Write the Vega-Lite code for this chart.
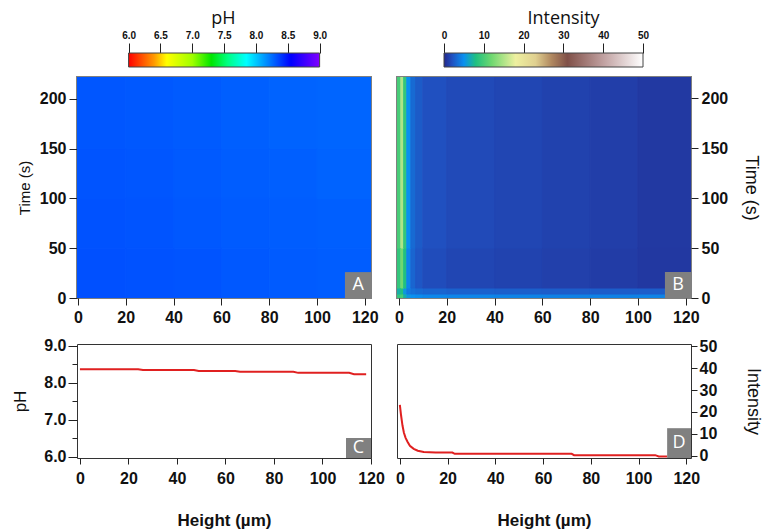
{
  "$schema": "https://vega.github.io/schema/vega-lite/v6.json",
  "padding": {"left": 11, "top": 9, "right": 0, "bottom": 0},
  "background": "white",
  "config": {
    "font": "Liberation Sans",
    "axis": {"labelFont": "Liberation Sans", "labelFontSize": 16, "labelFontWeight": "bold", "labelColor": "#111", "tickColor": "#222", "domain": false, "grid": false, "labelOverlap": false, "labelBound": false, "labelFlush": false, "titleFont": "Liberation Sans", "titleFontWeight": "normal", "titleColor": "#111"}
  },
  "datasets": {
    "cbPH": [{"lo": 6, "hi": 9}],
    "cbI": [{"lo": 0, "hi": 50}],
    "phmap": [
      {"h0": -1, "h1": 20, "t0": 0, "t1": 50, "pH": 8.33},
      {"h0": 20, "h1": 40, "t0": 0, "t1": 50, "pH": 8.325},
      {"h0": 40, "h1": 60, "t0": 0, "t1": 50, "pH": 8.32},
      {"h0": 60, "h1": 80, "t0": 0, "t1": 50, "pH": 8.31},
      {"h0": 80, "h1": 100, "t0": 0, "t1": 50, "pH": 8.30},
      {"h0": 100, "h1": 123, "t0": 0, "t1": 50, "pH": 8.295},
      {"h0": -1, "h1": 20, "t0": 50, "t1": 100, "pH": 8.325},
      {"h0": 20, "h1": 40, "t0": 50, "t1": 100, "pH": 8.32},
      {"h0": 40, "h1": 60, "t0": 50, "t1": 100, "pH": 8.31},
      {"h0": 60, "h1": 80, "t0": 50, "t1": 100, "pH": 8.30},
      {"h0": 80, "h1": 100, "t0": 50, "t1": 100, "pH": 8.295},
      {"h0": 100, "h1": 123, "t0": 50, "t1": 100, "pH": 8.29},
      {"h0": -1, "h1": 20, "t0": 100, "t1": 150, "pH": 8.32},
      {"h0": 20, "h1": 40, "t0": 100, "t1": 150, "pH": 8.315},
      {"h0": 40, "h1": 60, "t0": 100, "t1": 150, "pH": 8.305},
      {"h0": 60, "h1": 80, "t0": 100, "t1": 150, "pH": 8.295},
      {"h0": 80, "h1": 100, "t0": 100, "t1": 150, "pH": 8.29},
      {"h0": 100, "h1": 123, "t0": 100, "t1": 150, "pH": 8.28},
      {"h0": -1, "h1": 20, "t0": 150, "t1": 223, "pH": 8.315},
      {"h0": 20, "h1": 40, "t0": 150, "t1": 223, "pH": 8.31},
      {"h0": 40, "h1": 60, "t0": 150, "t1": 223, "pH": 8.30},
      {"h0": 60, "h1": 80, "t0": 150, "t1": 223, "pH": 8.29},
      {"h0": 80, "h1": 100, "t0": 150, "t1": 223, "pH": 8.28},
      {"h0": 100, "h1": 123, "t0": 150, "t1": 223, "pH": 8.275}
    ],
    "imap": [
      {"h0": -1, "h1": 0.8, "t0": 0, "t1": 4, "I": 9},
      {"h0": 0.8, "h1": 2, "t0": 0, "t1": 4, "I": 10},
      {"h0": 2, "h1": 3.3, "t0": 0, "t1": 4, "I": 7},
      {"h0": 3.3, "h1": 5, "t0": 0, "t1": 4, "I": 5.5},
      {"h0": 5, "h1": 7, "t0": 0, "t1": 4, "I": 5},
      {"h0": 7, "h1": 10, "t0": 0, "t1": 4, "I": 4.8},
      {"h0": 10, "h1": 20, "t0": 0, "t1": 4, "I": 4.6},
      {"h0": 20, "h1": 40, "t0": 0, "t1": 4, "I": 4.5},
      {"h0": 40, "h1": 60, "t0": 0, "t1": 4, "I": 4.4},
      {"h0": 60, "h1": 80, "t0": 0, "t1": 4, "I": 4.3},
      {"h0": 80, "h1": 100, "t0": 0, "t1": 4, "I": 4.3},
      {"h0": 100, "h1": 123, "t0": 0, "t1": 4, "I": 4.4},
      {"h0": -1, "h1": 0.8, "t0": 4, "t1": 10, "I": 7},
      {"h0": 0.8, "h1": 2, "t0": 4, "t1": 10, "I": 8},
      {"h0": 2, "h1": 3.3, "t0": 4, "t1": 10, "I": 5.5},
      {"h0": 3.3, "h1": 5, "t0": 4, "t1": 10, "I": 4},
      {"h0": 5, "h1": 7, "t0": 4, "t1": 10, "I": 3.5},
      {"h0": 7, "h1": 10, "t0": 4, "t1": 10, "I": 3.2},
      {"h0": 10, "h1": 20, "t0": 4, "t1": 10, "I": 3},
      {"h0": 20, "h1": 40, "t0": 4, "t1": 10, "I": 2.8},
      {"h0": 40, "h1": 60, "t0": 4, "t1": 10, "I": 2.7},
      {"h0": 60, "h1": 80, "t0": 4, "t1": 10, "I": 2.6},
      {"h0": 80, "h1": 100, "t0": 4, "t1": 10, "I": 2.6},
      {"h0": 100, "h1": 123, "t0": 4, "t1": 10, "I": 2.6},
      {"h0": -1, "h1": 0.8, "t0": 10, "t1": 50, "I": 9},
      {"h0": 0.8, "h1": 2, "t0": 10, "t1": 50, "I": 12},
      {"h0": 2, "h1": 3.3, "t0": 10, "t1": 50, "I": 8},
      {"h0": 3.3, "h1": 5, "t0": 10, "t1": 50, "I": 4.5},
      {"h0": 5, "h1": 7, "t0": 10, "t1": 50, "I": 3},
      {"h0": 7, "h1": 10, "t0": 10, "t1": 50, "I": 2.3},
      {"h0": 10, "h1": 20, "t0": 10, "t1": 50, "I": 1.8},
      {"h0": 20, "h1": 40, "t0": 10, "t1": 50, "I": 1.5},
      {"h0": 40, "h1": 60, "t0": 10, "t1": 50, "I": 1.35},
      {"h0": 60, "h1": 80, "t0": 10, "t1": 50, "I": 1.2},
      {"h0": 80, "h1": 100, "t0": 10, "t1": 50, "I": 1.0},
      {"h0": 100, "h1": 123, "t0": 10, "t1": 50, "I": 0.8},
      {"h0": -1, "h1": 0.8, "t0": 50, "t1": 222, "I": 10},
      {"h0": 0.8, "h1": 2, "t0": 50, "t1": 222, "I": 15},
      {"h0": 2, "h1": 3.3, "t0": 50, "t1": 222, "I": 9},
      {"h0": 3.3, "h1": 5, "t0": 50, "t1": 222, "I": 5},
      {"h0": 5, "h1": 7, "t0": 50, "t1": 222, "I": 3.2},
      {"h0": 7, "h1": 10, "t0": 50, "t1": 222, "I": 2.5},
      {"h0": 10, "h1": 20, "t0": 50, "t1": 222, "I": 2.0},
      {"h0": 20, "h1": 40, "t0": 50, "t1": 222, "I": 1.7},
      {"h0": 40, "h1": 60, "t0": 50, "t1": 222, "I": 1.5},
      {"h0": 60, "h1": 80, "t0": 50, "t1": 222, "I": 1.3},
      {"h0": 80, "h1": 100, "t0": 50, "t1": 222, "I": 1.1},
      {"h0": 100, "h1": 123, "t0": 50, "t1": 222, "I": 0.85}
    ],
    "lineC": [
      {"h": 0, "pH": 8.37}, {"h": 24, "pH": 8.37}, {"h": 26, "pH": 8.345}, {"h": 47, "pH": 8.345},
      {"h": 49, "pH": 8.32}, {"h": 64, "pH": 8.32}, {"h": 66, "pH": 8.30}, {"h": 88, "pH": 8.30},
      {"h": 90, "pH": 8.27}, {"h": 111, "pH": 8.27}, {"h": 113, "pH": 8.235}, {"h": 118, "pH": 8.235}
    ],
    "lineD": [
      {"h": 0, "I": 23.2}, {"h": 0.5, "I": 18.5}, {"h": 1.1, "I": 13.8}, {"h": 1.7, "I": 10.5},
      {"h": 2.4, "I": 8.2}, {"h": 3.2, "I": 6.4}, {"h": 4.2, "I": 4.6}, {"h": 5.8, "I": 3.2},
      {"h": 7.5, "I": 2.3}, {"h": 10, "I": 1.7}, {"h": 15, "I": 1.5}, {"h": 22, "I": 1.5},
      {"h": 23, "I": 0.9}, {"h": 72, "I": 0.9}, {"h": 73, "I": 0.3}, {"h": 107, "I": 0.3},
      {"h": 108.5, "I": -0.3}, {"h": 112, "I": -0.3}
    ],
    "labA": [{"label": "A"}],
    "labB": [{"label": "B"}],
    "labC": [{"label": "C"}],
    "labD": [{"label": "D"}]
  },
  "resolve": {"scale": {"color": "independent", "stroke": "independent"}},
  "vconcat": [
    {
      "resolve": {"scale": {"color": "independent", "stroke": "independent"}},
      "vconcat": [
        {
          "hconcat": [
            {
              "width": 294, "height": 14,
              "view": {"stroke": null},
              "data": {"name": "cbPH"},
              "mark": {"type": "rect", "stroke": "#444", "strokeWidth": 1,
                "fill": {"gradient": "linear", "x1": 0, "x2": 1, "y1": 0, "y2": 0, "stops": [
                  {"offset": 0, "color": "#ff0000"}, {"offset": 0.1333, "color": "#ff9900"},
                  {"offset": 0.2, "color": "#ffff00"}, {"offset": 0.3333, "color": "#a0ff00"},
                  {"offset": 0.4333, "color": "#00e600"}, {"offset": 0.5167, "color": "#00ff80"},
                  {"offset": 0.6167, "color": "#00ffff"}, {"offset": 0.7333, "color": "#0080ff"},
                  {"offset": 0.85, "color": "#0000ff"}, {"offset": 1, "color": "#8000ff"}]}},
              "encoding": {
                "x": {"field": "lo", "type": "quantitative",
                  "scale": {"domain": [5.19, 9.807], "nice": false, "zero": false},
                  "axis": {"orient": "top", "values": [6, 6.5, 7, 7.5, 8, 8.5, 9], "format": ".1f",
                    "labelFontSize": 10, "tickSize": 10, "labelPadding": 3,
                    "title": "pH", "titleFont": "Open Sans", "titleFontSize": 18, "titlePadding": 3, "titleX": 146}},
                "x2": {"field": "hi"}
              }
            },
            {
              "width": 294, "height": 14,
              "view": {"stroke": null},
              "data": {"name": "cbI"},
              "mark": {"type": "rect", "stroke": "#444", "strokeWidth": 1,
                "fill": {"gradient": "linear", "x1": 0, "x2": 1, "y1": 0, "y2": 0, "stops": [
                  {"offset": 0, "color": "#24288c"}, {"offset": 0.04, "color": "#2050c0"},
                  {"offset": 0.1, "color": "#0a90f0"}, {"offset": 0.16, "color": "#20c080"},
                  {"offset": 0.24, "color": "#70d870"}, {"offset": 0.36, "color": "#eef0a0"},
                  {"offset": 0.46, "color": "#e0d090"}, {"offset": 0.54, "color": "#b08860"},
                  {"offset": 0.62, "color": "#805048"}, {"offset": 0.8, "color": "#c0a0a0"},
                  {"offset": 1, "color": "#ffffff"}]}},
              "encoding": {
                "x": {"field": "lo", "type": "quantitative",
                  "scale": {"domain": [-11.81, 62.06], "nice": false, "zero": false},
                  "axis": {"orient": "top", "values": [0, 10, 20, 30, 40, 50], "format": "d",
                    "labelFontSize": 10, "tickSize": 10, "labelPadding": 3,
                    "title": "Intensity", "titleFont": "Open Sans", "titleFontSize": 18, "titlePadding": 3, "titleX": 166}},
                "x2": {"field": "hi"}
              }
            }
          ],
          "spacing": 26, "bounds": "flush"
        },
        {
          "resolve": {"scale": {"color": "independent", "stroke": "independent"}},
          "hconcat": [
            {
              "width": 294, "height": 221,
              "view": {"stroke": "#808080", "strokeWidth": 2},
              "layer": [
                {
                  "data": {"name": "phmap"},
                  "mark": {"type": "rect", "clip": true, "strokeWidth": 1},
                  "encoding": {
                    "x": {"field": "h0", "type": "quantitative",
                      "scale": {"domain": [-0.4, 122.6], "nice": false, "zero": false},
                      "axis": {"values": [0, 20, 40, 60, 80, 100, 120], "title": null, "tickSize": 7, "labelPadding": 4}},
                    "x2": {"field": "h1"},
                    "y": {"field": "t0", "type": "quantitative",
                      "scale": {"domain": [0, 222], "nice": false, "zero": false},
                      "axis": {"values": [0, 50, 100, 150, 200], "title": "Time (s)", "titleFontSize": 15, "tickSize": 8, "labelPadding": 3, "titlePadding": 7}},
                    "y2": {"field": "t1"},
                    "color": {"field": "pH", "type": "quantitative", "legend": null,
                      "scale": {"domain": [6.0, 6.4, 6.6, 7.0, 7.3, 7.55, 7.85, 8.2, 8.55, 9.0],
                        "range": ["#ff0000", "#ff9900", "#ffff00", "#a0ff00", "#00e600", "#00ff80", "#00ffff", "#0080ff", "#0000ff", "#8000ff"],
                        "interpolate": "rgb"}},
                    "stroke": {"field": "pH", "type": "quantitative", "legend": null,
                      "scale": {"domain": [6.0, 6.4, 6.6, 7.0, 7.3, 7.55, 7.85, 8.2, 8.55, 9.0],
                        "range": ["#ff0000", "#ff9900", "#ffff00", "#a0ff00", "#00e600", "#00ff80", "#00ffff", "#0080ff", "#0000ff", "#8000ff"],
                        "interpolate": "rgb"}}
                  }
                },
                {
                  "data": {"name": "labA"},
                  "mark": {"type": "rect", "color": "#808080"},
                  "encoding": {"x": {"datum": 111.7}, "x2": {"datum": 122.6}, "y": {"datum": 0}, "y2": {"datum": 26}}
                },
                {
                  "data": {"name": "labA"},
                  "mark": {"type": "text", "color": "white", "font": "Open Sans", "fontSize": 18},
                  "encoding": {"x": {"datum": 117.2}, "y": {"datum": 13}, "text": {"field": "label"}}
                }
              ]
            },
            {
              "width": 294, "height": 221,
              "view": {"stroke": "#808080", "strokeWidth": 2},
              "layer": [
                {
                  "data": {"name": "imap"},
                  "mark": {"type": "rect", "clip": true, "strokeWidth": 1},
                  "encoding": {
                    "x": {"field": "h0", "type": "quantitative",
                      "scale": {"domain": [-0.8, 122.2], "nice": false, "zero": false},
                      "axis": {"values": [0, 20, 40, 60, 80, 100, 120], "title": null, "tickSize": 7, "labelPadding": 4}},
                    "x2": {"field": "h1"},
                    "y": {"field": "t0", "type": "quantitative",
                      "scale": {"domain": [0, 221], "nice": false, "zero": false},
                      "axis": {"orient": "right", "values": [0, 50, 100, 150, 200], "title": "Time (s)", "titleFontSize": 18, "tickSize": 7, "labelPadding": 3, "titlePadding": 14}},
                    "y2": {"field": "t1"},
                    "color": {"field": "I", "type": "quantitative", "legend": null,
                      "scale": {"domain": [0, 2, 5, 8, 12, 18, 23, 27, 31, 40, 50],
                        "range": ["#24288c", "#2050c0", "#0a90f0", "#20c080", "#70d870", "#eef0a0", "#e0d090", "#b08860", "#805048", "#c0a0a0", "#ffffff"],
                        "interpolate": "rgb"}},
                    "stroke": {"field": "I", "type": "quantitative", "legend": null,
                      "scale": {"domain": [0, 2, 5, 8, 12, 18, 23, 27, 31, 40, 50],
                        "range": ["#24288c", "#2050c0", "#0a90f0", "#20c080", "#70d870", "#eef0a0", "#e0d090", "#b08860", "#805048", "#c0a0a0", "#ffffff"],
                        "interpolate": "rgb"}}
                  }
                },
                {
                  "data": {"name": "labB"},
                  "mark": {"type": "rect", "color": "#808080"},
                  "encoding": {"x": {"datum": 111.3}, "x2": {"datum": 122.2}, "y": {"datum": 0}, "y2": {"datum": 26}}
                },
                {
                  "data": {"name": "labB"},
                  "mark": {"type": "text", "color": "white", "font": "Open Sans", "fontSize": 18},
                  "encoding": {"x": {"datum": 116.8}, "y": {"datum": 13}, "text": {"field": "label"}}
                }
              ]
            }
          ],
          "spacing": 26, "bounds": "flush"
        }
      ],
      "spacing": 8
    },
    {
      "hconcat": [
        {
          "width": 294, "height": 114,
          "view": {"stroke": "#333", "strokeWidth": 1},
          "resolve": {"axis": {"x": "independent", "y": "independent"}},
          "layer": [
            {
              "data": {"name": "lineC"},
              "mark": {"type": "line", "color": "#e02020", "strokeWidth": 2},
              "encoding": {
                "x": {"field": "h", "type": "quantitative",
                  "scale": {"domain": [-1.2, 120], "nice": false, "zero": false},
                  "axis": {"orient": "bottom", "values": [0, 20, 40, 60, 80, 100, 120], "title": "Height (µm)", "titleFontSize": 17, "titleFontWeight": "bold", "titlePadding": 26, "tickSize": 6, "labelPadding": 6}},
                "y": {"field": "pH", "type": "quantitative",
                  "scale": {"domain": [5.97, 9.05], "nice": false, "zero": false},
                  "axis": {"orient": "left", "values": [6, 7, 8, 9], "format": ".1f", "title": "pH", "titleFontSize": 17, "tickSize": 9, "labelPadding": 2, "titlePadding": 14}}
              }
            },
            {
              "data": {"name": "labC"},
              "mark": {"type": "rect", "color": "#808080"},
              "encoding": {"x": {"datum": 109.7, "axis": null}, "x2": {"datum": 120},
                "y": {"datum": 5.97, "axis": {"orient": "left", "values": [6.5, 7.5, 8.5], "labels": false, "tickSize": 5, "title": null}}, "y2": {"datum": 6.51}}
            },
            {
              "data": {"name": "labC"},
              "mark": {"type": "text", "color": "white", "font": "Open Sans", "fontSize": 18},
              "encoding": {"x": {"datum": 114.85, "axis": null}, "y": {"datum": 6.24, "axis": null}, "text": {"field": "label"}}
            }
          ]
        },
        {
          "width": 294, "height": 114,
          "view": {"stroke": "#333", "strokeWidth": 1},
          "resolve": {"axis": {"x": "independent", "y": "independent"}},
          "layer": [
            {
              "data": {"name": "lineD"},
              "mark": {"type": "line", "color": "#e02020", "strokeWidth": 2},
              "encoding": {
                "x": {"field": "h", "type": "quantitative",
                  "scale": {"domain": [-1.2, 122], "nice": false, "zero": false},
                  "axis": {"orient": "bottom", "values": [0, 20, 40, 60, 80, 100, 120], "title": "Height (µm)", "titleFontSize": 17, "titleFontWeight": "bold", "titlePadding": 26, "tickSize": 6, "labelPadding": 6}},
                "y": {"field": "I", "type": "quantitative",
                  "scale": {"domain": [-1, 51], "nice": false, "zero": false},
                  "axis": {"orient": "right", "values": [0, 10, 20, 30, 40, 50], "title": "Intensity", "titleFontSize": 18, "tickSize": 6, "labelPadding": 2, "titlePadding": 27}}
              }
            },
            {
              "data": {"name": "labD"},
              "mark": {"type": "rect", "color": "#808080"},
              "encoding": {"x": {"datum": 112, "axis": null}, "x2": {"datum": 122}, "y": {"datum": -1, "axis": null}, "y2": {"datum": 12.6}}
            },
            {
              "data": {"name": "labD"},
              "mark": {"type": "text", "color": "white", "font": "Open Sans", "fontSize": 18},
              "encoding": {"x": {"datum": 117, "axis": null}, "y": {"datum": 5.8, "axis": null}, "text": {"field": "label"}}
            }
          ]
        }
      ],
      "spacing": 26, "bounds": "flush"
    }
  ],
  "spacing": 11
}
